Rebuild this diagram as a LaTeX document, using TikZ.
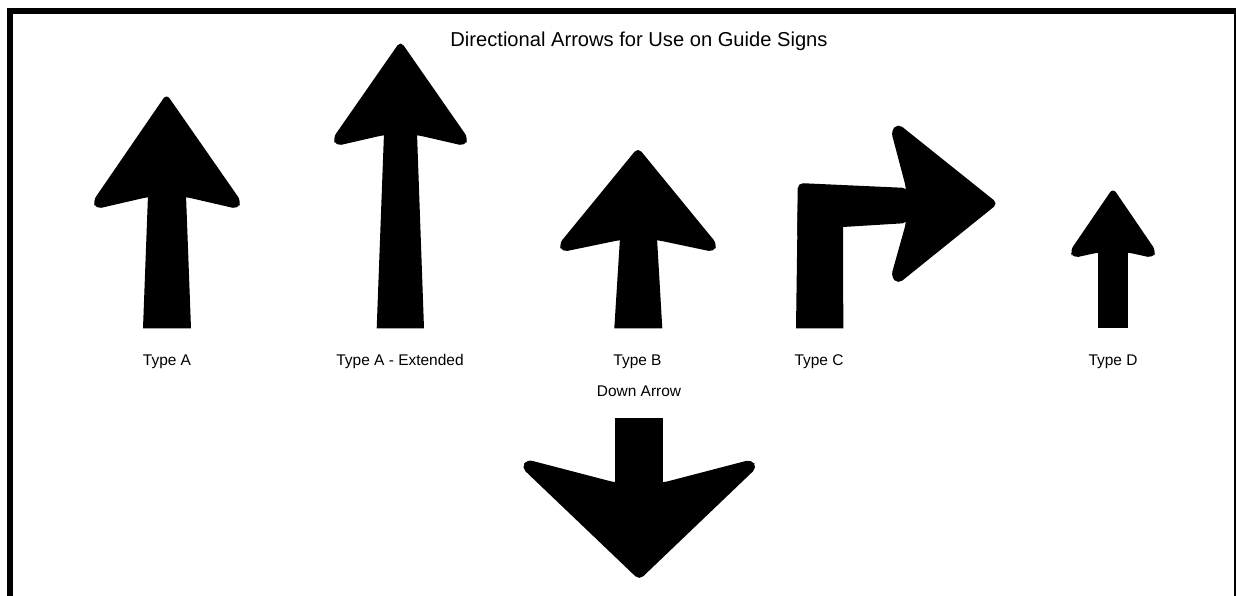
\documentclass[tikz,border=0pt]{standalone}
\usepackage{fontspec}
\setmainfont{Liberation Sans}

\begin{document}
\begin{tikzpicture}[x=0.75pt, y=-0.75pt,
    sign label/.style={font=\fontsize{11.6}{14}\selectfont, anchor=base, inner sep=0pt},
    head/.style={fill=black, rounded corners=4pt}]
  \useasboundingbox (0,0) rectangle (1236,596);
  % frame
  \fill (7,8) rectangle (1236,14);
  \fill (7,8) rectangle (13,596);
  \fill (1234,14) rectangle (1236,596);
  \node[font=\fontsize{15.1}{18}\selectfont, anchor=base, inner sep=0pt] (title) at (639,46.5) {Directional Arrows for Use on Guide Signs};
  % Type A
  \fill[head] (166.5,94) -- (241,201) -- (238,209) -- (186,197) -- (148,197) -- (96,209) -- (93,201) -- cycle;
  \fill (148,195) -- (143,328.3) -- (191,328.3) -- (186,195) -- cycle;
  \node[sign label] (typeA) at (167,365) {Type A};
  % Type A - Extended
  \fill[head] (400.5,41) -- (468,138) -- (465,146) -- (417,135) -- (384,135) -- (336,146) -- (333,138) -- cycle;
  \fill (384,133) -- (376.7,328.3) -- (424,328.3) -- (417,133) -- cycle;
  \node[sign label] (typeAext) at (400,365) {Type A - Extended};
  % Type B
  \fill[head] (638,147.5) -- (717,244) -- (714,252) -- (657,240) -- (620,240) -- (562,252) -- (559,244) -- cycle;
  \fill (620,238) -- (614.3,328.3) -- (662.3,328.3) -- (657,238) -- cycle;
  \node[sign label] (typeB) at (637.5,365) {Type B};
  % Type C
  \fill (796,328.3) -- (797.8,200) -- (843,200) -- (843.3,328.3) -- cycle;
  \fill[head] (797.2,240) -- (797.8,183) -- (908,188) -- (908,223) -- (820,228.4) -- (820,240) -- cycle;
  \fill[head] (906,187.5) -- (891,131) -- (898,123.5) -- (998,203.5) -- (898,284) -- (891,276.5) -- (906,223) -- cycle;
  \node[sign label] (typeC) at (819,365) {Type C};
  % Type D
  \fill[head] (1113,188) -- (1156,251) -- (1153,258) -- (1128.3,252.5) -- (1098.3,252.5) -- (1073,258) -- (1070,251) -- cycle;
  \fill (1098.3,250) rectangle (1128.3,328.3);
  \node[sign label] (typeD) at (1113,365) {Type D};
  % Down Arrow
  \node[sign label] (down) at (639,396.5) {Down Arrow};
  \fill (615.3,418.3) rectangle (663.3,484);
  \fill[head] (615.3,482.5) -- (527,459.5) -- (521.5,467.5) -- (639.3,580) -- (757,467.5) -- (751.5,459.5) -- (663.3,482.5) -- cycle;
\end{tikzpicture}
\end{document}
